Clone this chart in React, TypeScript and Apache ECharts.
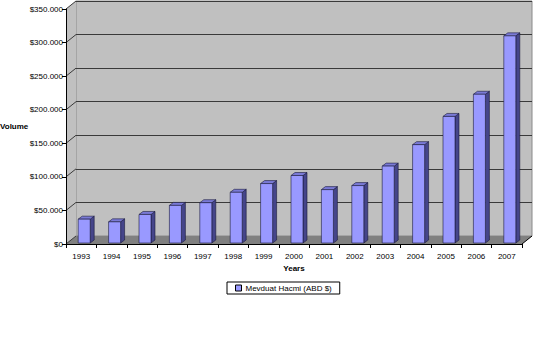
import React, { useEffect, useRef } from "react";
import * as echarts from "echarts";

const years = ["1993", "1994", "1995", "1996", "1997", "1998", "1999", "2000", "2001", "2002", "2003", "2004", "2005", "2006", "2007"];
const volumes = [37000, 33000, 44000, 57500, 61500, 77000, 90000, 102000, 81000, 87000, 116000, 148000, 190000, 223000, 310000];
const yTickValues = [0, 50000, 100000, 150000, 200000, 250000, 300000, 350000];
const seriesName = "Mevduat Hacmi (ABD $)";

const FONT = 'Arial, "Liberation Sans", sans-serif';
const DX = 10; // depth offset x
const DY = 8; // depth offset y

function fmt(v: number) {
  return "$" + String(v).replace(/\B(?=(\d{3})+(?!\d))/g, ".");
}

export default function App() {
  const ref = useRef<HTMLDivElement>(null);
  useEffect(() => {
    if (!ref.current) return;
    const chart = echarts.init(ref.current, null, { renderer: "svg" });
    const option: any = {
      animation: false,
      backgroundColor: "#ffffff",
      textStyle: { fontFamily: FONT },
      grid: [
        { left: 66, top: 9, width: 456, height: 235, containLabel: false },
        {
          left: 76, top: 1, width: 456, height: 235, show: true,
          backgroundColor: "#c0c0c0", borderColor: "#8a8a8a", borderWidth: 1,
        },
      ],
      xAxis: [
        {
          gridIndex: 0, type: "category", data: years, z: 10,
          axisLine: { lineStyle: { color: "#000", width: 1 } },
          axisTick: { show: true, length: 4, lineStyle: { color: "#000" } },
          axisLabel: { fontSize: 8, color: "#000", margin: 8, fontFamily: FONT },
          name: "Years", nameLocation: "middle", nameGap: 18,
          nameTextStyle: { fontSize: 8, fontWeight: "bold", color: "#000", fontFamily: FONT },
        },
        {
          gridIndex: 1, type: "category", data: years, show: false,
        },
      ],
      yAxis: [
        {
          gridIndex: 0, type: "value", min: 0, max: 350000, interval: 50000, z: 10,
          axisLine: { show: true, lineStyle: { color: "#000", width: 1 } },
          axisTick: { show: true, length: 4, lineStyle: { color: "#000" } },
          axisLabel: { fontSize: 8, color: "#000", margin: 3, formatter: fmt, fontFamily: FONT },
          splitLine: { show: false },
        },
        {
          gridIndex: 1, type: "value", min: 0, max: 350000, interval: 50000,
          axisLine: { show: false }, axisTick: { show: false }, axisLabel: { show: false },
          splitLine: { show: true, lineStyle: { color: "#3a3a3a", width: 1 } },
        },
      ],
      legend: {
        data: [seriesName],
        left: 227, top: 282,
        padding: [2, 8],
        borderColor: "#000", borderWidth: 1,
        itemWidth: 6, itemHeight: 6, itemGap: 4,
        icon: "rect",
        itemStyle: { color: "#9999ff", borderColor: "#000", borderWidth: 1 },
        textStyle: { fontSize: 8, color: "#000", fontFamily: FONT, padding: [0, 0, 0, -1] },
      },
      graphic: [
        {
          type: "text", left: 0, top: 122,
          style: { text: "Volume", font: `bold 8px ${FONT}`, fill: "#000" },
        },
      ],
      series: [
        {
          type: "custom", name: "walls", xAxisIndex: 0, yAxisIndex: 0, z: 1,
          data: [[0, 0]],
          silent: true,
          renderItem: (params: any, api: any) => {
            const cs = params.coordSys;
            const x = cs.x, w = cs.width;
            const yb = api.coord([0, 0])[1];
            const yt = api.coord([0, 350000])[1];
            const children: any[] = [];
            children.push({
              type: "polygon",
              shape: { points: [[x, yt], [x + DX, yt - DY], [x + DX, yb - DY], [x, yb]] },
              style: { fill: "#c0c0c0", stroke: "none" },
            });
            children.push({
              type: "polygon",
              shape: { points: [[x, yb], [x + DX, yb - DY], [x + w + DX, yb - DY], [x + w, yb]] },
              style: { fill: "#808080", stroke: "none" },
            });
            yTickValues.forEach((v) => {
              const y = api.coord([0, v])[1];
              children.push({
                type: "line",
                shape: { x1: x, y1: y, x2: x + DX, y2: y - DY },
                style: { stroke: "#3a3a3a", lineWidth: 1 },
              });
            });
            children.push({
              type: "line",
              shape: { x1: x + w, y1: yb, x2: x + w + DX, y2: yb - DY },
              style: { stroke: "#000", lineWidth: 1 },
            });
            return { type: "group", children };
          },
        },
        {
          type: "custom", name: seriesName, xAxisIndex: 0, yAxisIndex: 0, z: 3,
          itemStyle: { color: "#9999ff", borderColor: "#000", borderWidth: 1 },
          data: years.map((y, i) => [i, volumes[i]]),
          encode: { x: 0, y: 1 },
          renderItem: (params: any, api: any) => {
            const i = api.value(0);
            const v = api.value(1);
            const top = api.coord([i, v]);
            const base = api.coord([i, 0]);
            const cx = top[0] + 3;
            const w = 12, dx = 4, dy = 3;
            const x0 = cx - w / 2, x1 = cx + w / 2;
            const yT = top[1], yB = base[1] - 1;
            const line = { stroke: "#1a1a3a", lineWidth: 0.6 };
            return {
              type: "group",
              children: [
                {
                  type: "polygon",
                  shape: { points: [[x1, yT], [x1 + dx, yT - dy], [x1 + dx, yB - dy], [x1, yB]] },
                  style: { fill: "#45458a", ...line },
                },
                {
                  type: "polygon",
                  shape: { points: [[x0, yT], [x0 + dx, yT - dy], [x1 + dx, yT - dy], [x1, yT]] },
                  style: { fill: "#7a7ad6", ...line },
                },
                {
                  type: "rect",
                  shape: { x: x0, y: yT, width: w, height: yB - yT },
                  style: { fill: "#9999ff", ...line },
                },
              ],
            };
          },
        },
      ],
    };
    chart.setOption(option);
    return () => chart.dispose();
  }, []);
  return (
    <div
      ref={ref}
      style={{ position: "fixed", left: 0, top: 0, width: 537, height: 347, background: "#fff" }}
    />
  );
}
